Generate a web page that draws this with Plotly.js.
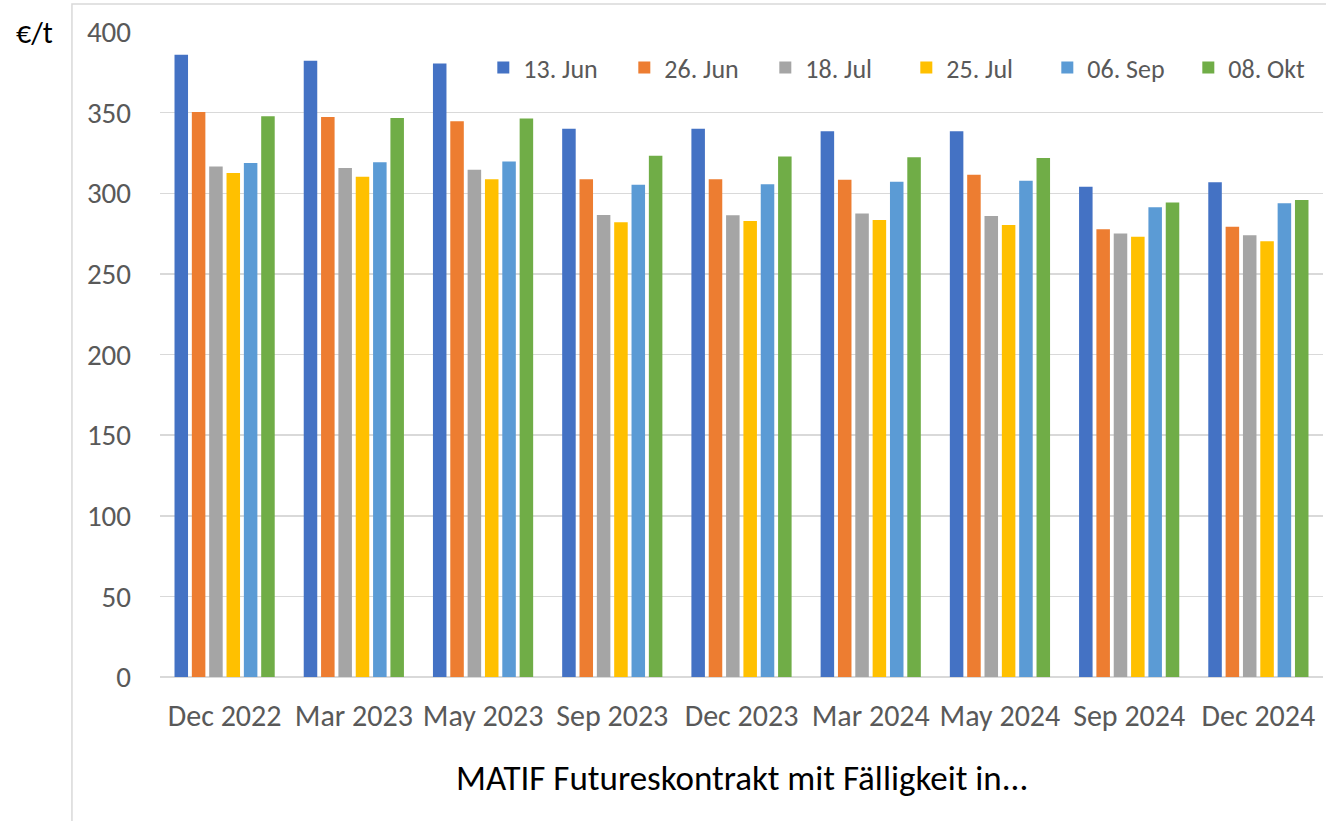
<!DOCTYPE html>
<html>
<head>
<meta charset="utf-8">
<script src="https://cdn.plot.ly/plotly-3.0.1.min.js"></script>
<style>
  html, body { margin: 0; padding: 0; background: #fff; }
  #chart { width: 1326px; height: 821px; }
</style>
</head>
<body>
<div id="chart"></div>
<script>
// contract months (x axis)
const contracts = ['Dec 2022', 'Mar 2023', 'May 2023', 'Sep 2023', 'Dec 2023', 'Mar 2024', 'May 2024', 'Sep 2024', 'Dec 2024'];

// prices in €/t, one array per quote date
const jun13 = [385.9, 382.2, 380.5, 340.0, 340.0, 338.4, 338.5, 304.1, 306.8];
const jun26 = [350.4, 347.3, 344.6, 308.7, 308.7, 308.3, 311.4, 277.6, 279.2];
const jul18 = [316.6, 315.6, 314.5, 286.5, 286.3, 287.5, 285.9, 275.1, 274.0];
const jul25 = [312.5, 310.3, 308.7, 282.0, 282.8, 283.4, 280.3, 273.0, 270.3];
const sep06 = [318.7, 319.3, 319.7, 305.2, 305.6, 307.2, 307.8, 291.3, 293.8];
const okt08 = [347.7, 346.7, 346.3, 323.2, 322.8, 322.4, 321.8, 294.2, 295.8];

const seriesNames = ['13. Jun', '26. Jun', '18. Jul', '25. Jul', '06. Sep', '08. Okt'];
const seriesValues = [jun13, jun26, jul18, jul25, sep06, okt08];
const seriesColors = ['#4472C4', '#ED7D31', '#A5A5A5', '#FFC000', '#5B9BD5', '#70AD47'];

const fontFamily = 'Carlito, Calibri, "Liberation Sans", Arial, sans-serif';

const traces = seriesNames.map((name, i) => ({
    type: 'bar',
    name: name,
    x: contracts,
    y: seriesValues[i],
    marker: { color: seriesColors[i] },
    hoverinfo: 'x+y+name'
}));

const layout = {
    width: 1326,
    height: 821,
    margin: { l: 160, r: 3, t: 32, b: 144, autoexpand: false },
    paper_bgcolor: '#ffffff',
    plot_bgcolor: '#ffffff',
    barmode: 'group',
    bargap: 0.195,
    bargroupgap: 0.22,
    font: { family: fontFamily, color: '#595959' },
    showlegend: true,
    legend: {
        orientation: 'h',
        x: 0.278,
        xanchor: 'left',
        y: 0.945,
        yanchor: 'middle',
        entrywidth: 96,
        entrywidthmode: 'pixels',
        font: { size: 26, color: '#595959', family: fontFamily },
        bgcolor: 'rgba(0,0,0,0)'
    },
    xaxis: {
        type: 'category',
        showgrid: false,
        zeroline: false,
        showline: false,
        ticks: '',
        ticklabelstandoff: 18,
        tickfont: { size: 30, color: '#595959' }
    },
    yaxis: {
        range: [0, 400],
        dtick: 50,
        showgrid: true,
        gridcolor: '#d9d9d9',
        gridwidth: 1.5,
        zeroline: true,
        zerolinecolor: '#d9d9d9',
        zerolinewidth: 1.5,
        showline: false,
        ticks: '',
        ticklabelstandoff: 28,
        tickfont: { size: 29, color: '#595959' }
    },
    annotations: [
        {
            text: 'MATIF Futureskontrakt mit Fälligkeit in...',
            xref: 'paper', yref: 'paper',
            x: 0.5, y: -0.157,
            xanchor: 'center', yanchor: 'middle',
            showarrow: false,
            font: { size: 35, color: '#000000' }
        },
        {
            text: '€/t',
            xref: 'paper', yref: 'paper',
            x: -0.1075, y: 1.0,
            xanchor: 'center', yanchor: 'middle',
            showarrow: false,
            font: { size: 30, color: '#000000' }
        }
    ],
    shapes: [
        {
            type: 'rect',
            xref: 'paper', yref: 'paper',
            x0: -0.0757, x1: 1.2, y0: -0.4, y1: 1.0434,
            line: { color: '#d9d9d9', width: 1.5 },
            layer: 'below'
        }
    ]
};

Plotly.newPlot('chart', traces, layout, { displayModeBar: false, staticPlot: true });
</script>
</body>
</html>
